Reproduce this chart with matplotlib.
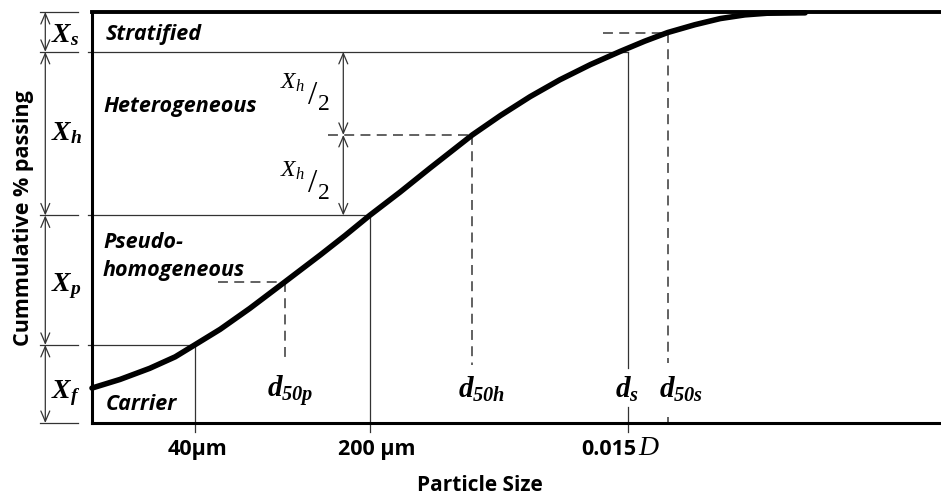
import matplotlib
matplotlib.use("Agg")
import matplotlib.pyplot as plt
from matplotlib.patches import FancyArrowPatch

# Cumulative particle-size distribution (relative log-size position vs % passing)
size_pos = [0.0, 3.3, 6.8, 9.8, 12.1, 15.1, 18.6, 22.7, 26.9, 29.8, 32.7, 36.3,
            39.8, 44.8, 48.1, 51.6, 55.1, 58.7, 62.2, 65.1, 67.8, 71.0, 74.0,
            76.9, 79.5, 84.0]
passing = [8.5, 10.6, 13.3, 16.1, 19.0, 22.8, 27.9, 34.3, 40.9, 45.6, 50.5, 56.2,
           62.0, 70.1, 74.8, 79.4, 83.5, 87.2, 90.4, 92.9, 95.0, 96.9, 98.4,
           99.3, 99.7, 99.8]

# Regime boundaries on the passing axis
x_f = 19.0        # carrier fraction limit (at 40 um)
x_p_top = 50.5    # pseudo-homogeneous / heterogeneous limit (at 200 um)
x_h_mid = 70.1    # half of heterogeneous fraction (d50h)
x_h_top = 90.3    # heterogeneous / stratified limit (at ds)
y_d50p = 34.3
y_d50s = 95.0

# Characteristic sizes on the size axis
pos_40um = 12.1
pos_200um = 32.7
pos_ds = 63.1
pos_d50p = 22.7
pos_d50h = 44.8
pos_d50s = 67.8

tick_labels = ["40\u03bcm", "200 \u03bcm", "0.015"]
region_labels = ["Stratified", "Heterogeneous", "Pseudo-", "homogeneous", "Carrier"]

plt.rcParams["mathtext.fontset"] = "custom"
plt.rcParams["mathtext.it"] = "Liberation Serif:italic:bold"
plt.rcParams["mathtext.rm"] = "Liberation Serif:italic:bold"
plt.rcParams["mathtext.bf"] = "Liberation Serif:italic:bold"
plt.rcParams["mathtext.sf"] = "Liberation Serif:italic"

fig = plt.figure(figsize=(9.41, 4.95), dpi=100)
ax = fig.add_axes([92 / 941, 72 / 495, 849 / 941, 411 / 495])
ax.set_xlim(0, 100)
ax.set_ylim(0, 100)
ax.set_xticks([])
ax.set_yticks([])
ax.spines["right"].set_visible(False)
ax.spines["left"].set_linewidth(2.2)
ax.spines["bottom"].set_linewidth(2.2)
ax.spines["top"].set_linewidth(2.8)

thin = dict(color="#333333", lw=0.9, clip_on=False)
dash = dict(color="#555555", lw=1.3, ls=(0, (5.5, 3.5)), clip_on=False)

# Grading curve
ax.plot(size_pos, passing, color="black", lw=4.0, solid_capstyle="round",
        solid_joinstyle="round", clip_on=False, zorder=5)

# Boundary lines between regimes
ax.plot([-0.5, pos_ds], [x_h_top, x_h_top], **thin)
ax.plot([-0.5, pos_200um], [x_p_top, x_p_top], **thin)
ax.plot([-0.5, pos_40um], [x_f, x_f], **thin)
ax.plot([pos_40um, pos_40um], [x_f, -2.2], **thin)
ax.plot([pos_200um, pos_200um], [x_p_top, -2.2], **thin)
ax.plot([pos_ds, pos_ds], [x_h_top, 13.5], **thin)
ax.plot([pos_ds, pos_ds], [3.9, -2.2], **thin)

# Median-size guides
ax.plot([14.8, pos_d50p], [y_d50p, y_d50p], **dash)
ax.plot([pos_d50p, pos_d50p], [y_d50p, 15.0], **dash)
ax.plot([27.8, pos_d50h], [x_h_mid, x_h_mid], **dash)
ax.plot([pos_d50h, pos_d50h], [x_h_mid, 14.0], **dash)
ax.plot([60.2, pos_d50s], [y_d50s, y_d50s], **dash)
ax.plot([pos_d50s, pos_d50s], [y_d50s, 14.5], **dash)
ax.plot([pos_d50s, pos_d50s], [1.5, 0.3], **dash)

# Dimension bars on the left
levels = [100, x_h_top, x_p_top, x_f, 0]
for lv in levels:
    ax.plot([-6.1, -1.65], [lv, lv], **thin)
arrow_style = "<->,head_length=0.75,head_width=0.32"
for top, bot in zip(levels[:-1], levels[1:]):
    ax.add_patch(FancyArrowPatch((-5.5, top), (-5.5, bot), arrowstyle=arrow_style,
                                 mutation_scale=10, color="#333333", lw=0.9,
                                 shrinkA=0, shrinkB=0, clip_on=False))
for top, bot in [(x_h_top, x_h_mid), (x_h_mid, x_p_top)]:
    ax.add_patch(FancyArrowPatch((29.6, top), (29.6, bot), arrowstyle=arrow_style,
                                 mutation_scale=10, color="#333333", lw=0.9,
                                 shrinkA=0, shrinkB=0, clip_on=False))

# Fraction symbols
frac_kw = dict(fontsize=20, ha="left", va="center", clip_on=False)
ax.text(-4.8, 94.6, r"$X_s$", **frac_kw)
ax.text(-4.8, 70.8, r"$X_h$", **frac_kw)
ax.text(-4.8, 33.3, r"$X_p$", **frac_kw)
ax.text(-4.8, 7.3, r"$X_f$", **frac_kw)

# Half-fraction labels
for off in (0.0, -21.5):
    ax.text(22.2, 83.0 + off, r"$\mathsf{X_h}$", fontsize=17, ha="left", va="center")
    ax.text(26.0, 79.6 + off, "/", fontsize=24, family="Liberation Serif",
            ha="center", va="center")
    ax.text(27.3, 77.4 + off, "2", fontsize=17, family="Liberation Serif",
            ha="center", va="center")

# Characteristic size labels
d_kw = dict(fontsize=21, ha="center", va="baseline")
ax.text(23.4, 6.1, r"$d_{50p}$", **d_kw)
ax.text(45.9, 6.1, r"$d_{50h}$", **d_kw)
ax.text(63.0, 6.1, r"$d_s$", **d_kw)
ax.text(69.4, 6.1, r"$d_{50s}$", **d_kw)

# Regime names
reg_kw = dict(family="Open Sans", fontsize=15.5, weight="bold", style="italic",
              ha="left", va="center")
ax.text(1.6, 94.5, region_labels[0], **reg_kw)
ax.text(1.3, 77.1, region_labels[1], **reg_kw)
ax.text(1.3, 43.8, region_labels[2], **reg_kw)
ax.text(1.3, 37.2, region_labels[3], **reg_kw)
ax.text(1.6, 4.6, region_labels[4], **reg_kw)

# Size axis labels
tk_kw = dict(family="Open Sans", fontsize=15.5, weight="bold", va="center",
             clip_on=False)
ax.text(pos_40um + 0.3, -6.4, tick_labels[0], ha="center", **tk_kw)
ax.text(pos_200um + 0.8, -6.4, tick_labels[1], ha="center", **tk_kw)
ax.text(pos_ds + 1.0, -6.4, tick_labels[2], ha="right", **tk_kw)
ax.text(pos_ds + 1.2, -6.2, "D", family="Liberation Serif", style="italic",
        fontsize=20, ha="left", va="center", clip_on=False)

ax.text(45.7, -15.1, "Particle Size", family="Open Sans", fontsize=15,
        weight="bold", ha="center", va="center", clip_on=False)
ax.text(-8.1, 49.9, "Cummulative % passing", family="Open Sans", fontsize=15.5,
        weight="bold", rotation=90, ha="center", va="center", clip_on=False)

fig.savefig("out.png", dpi=100)
